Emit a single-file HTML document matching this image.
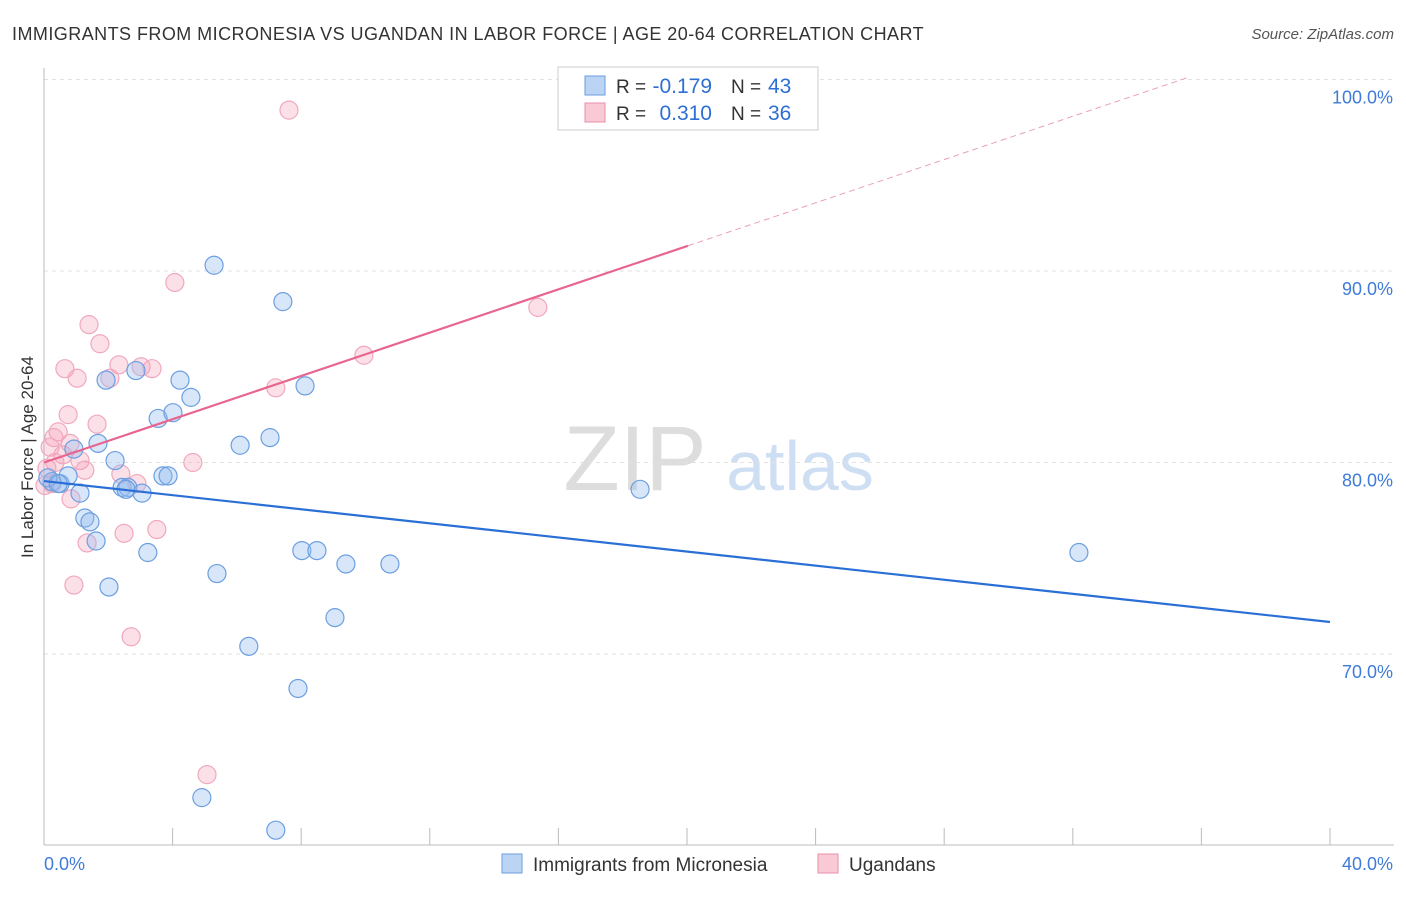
<!DOCTYPE html>
<html><head><meta charset="utf-8"><style>
body{margin:0;background:#fff;font-family:"Liberation Sans",sans-serif}
svg text{font-family:"Liberation Sans",sans-serif}
</style></head><body>
<svg id="c" width="1406" height="892">
<text x="12" y="40" font-size="18" fill="#333" letter-spacing="0.45">IMMIGRANTS FROM MICRONESIA VS UGANDAN IN LABOR FORCE | AGE 20-64 CORRELATION CHART</text>
<text x="1394" y="39" font-size="15" fill="#555" font-style="italic" text-anchor="end">Source: ZipAtlas.com</text>
<text x="33" y="457" font-size="17" fill="#333" text-anchor="middle" transform="rotate(-90 33 457)">In Labor Force | Age 20-64</text>
<g><text x="635" y="490" font-size="92" fill="#ddd" font-family="Liberation Serif" text-anchor="middle">ZIP</text><text x="800" y="490" font-size="70" fill="#cfdff3" text-anchor="middle">atlas</text></g>
<g id="grid"></g><g id="marks"></g><g id="lines"></g>
<g>
<rect x="558" y="67" width="260" height="63" fill="#fff" stroke="#ccc"/>
<rect x="585" y="76" width="20" height="19" fill="#bcd4f4" stroke="#6a9de0"/>
<rect x="585" y="103" width="20" height="19" fill="#f9c9d6" stroke="#eb8fab"/>
<text x="616" y="93" font-size="19" fill="#333">R =</text>
<text x="712" y="93" font-size="21" fill="#2e6fd3" text-anchor="end">-0.179</text>
<text x="731" y="93" font-size="19" fill="#333">N =</text>
<text x="768" y="93" font-size="21" fill="#2e6fd3">43</text>
<text x="616" y="120" font-size="19" fill="#333">R =</text>
<text x="712" y="120" font-size="21" fill="#2e6fd3" text-anchor="end">0.310</text>
<text x="731" y="120" font-size="19" fill="#333">N =</text>
<text x="768" y="120" font-size="21" fill="#2e6fd3">36</text>
</g>
<g>
<rect x="502" y="854" width="20" height="19" fill="#bcd4f4" stroke="#6a9de0"/>
<text x="533" y="871" font-size="19" fill="#333">Immigrants from Micronesia</text>
<rect x="818" y="854" width="20" height="19" fill="#f9c9d6" stroke="#eb8fab"/>
<text x="849" y="871" font-size="19" fill="#333">Ugandans</text>
</g>
</svg>
<script>
const yTicks=[70,80,90,100];
const yTickLabels=["70.0%","80.0%","90.0%","100.0%"];
const blueX=[5.29,7.43,1.93,2.86,4.23,8.12,4.57,3.55,4.01,1.68,6.1,7.03,0.93,2.21,3.70,3.86,0.25,0.5,0.75,1.12,2.43,2.61,3.05,2.55,1.27,1.43,1.62,3.23,5.38,8.02,8.49,9.39,10.76,2.02,9.05,6.37,7.9,4.91,7.21,18.54,32.19,0.12,0.44];
const blueY=[90.3,88.4,84.3,84.8,84.3,84.0,83.4,82.3,82.6,81.0,80.9,81.3,80.7,80.1,79.3,79.3,79.0,78.9,79.3,78.4,78.7,78.7,78.4,78.6,77.1,76.9,75.9,75.3,74.2,75.4,75.4,74.7,74.7,73.5,71.9,70.4,68.2,62.5,60.8,78.6,75.3,79.2,78.9];
const pinkX=[7.62,4.07,15.36,1.4,1.74,0.65,1.03,2.05,2.33,3.02,3.36,9.95,7.21,0.75,1.65,0.44,0.31,0.81,0.19,0.34,1.12,1.27,4.63,2.39,2.89,0.84,1.34,2.49,3.51,0.93,2.71,5.07,0.09,0.25,0.59,0.03];
const pinkY=[98.4,89.4,88.1,87.2,86.2,84.9,84.4,84.4,85.1,85.0,84.9,85.6,83.9,82.5,82.0,81.6,81.3,81.0,80.8,80.0,80.1,79.6,80.0,79.4,78.9,78.1,75.8,76.3,76.5,73.6,70.9,63.7,79.7,78.9,80.4,78.8];
const blueTrend=[79.03,71.67];
const pinkTrend=[80.0,0.565];
const X=v=>44+v/40*1286, Y=v=>79.5+(100-v)*19.15;
const NS='http://www.w3.org/2000/svg';
function mk(t,a,p){const e=document.createElementNS(NS,t);for(const k in a)e.setAttribute(k,a[k]);p.appendChild(e);return e;}
const g=document.getElementById('grid');
yTicks.forEach((t,i)=>{
 const l=mk('line',{x1:44,x2:1394,y1:Y(t),y2:Y(t),stroke:'#e2e2e2','stroke-dasharray':'4,4'},g);
 
 
 const tx=mk('text',{x:1393,y:Y(t)+24,'font-size':18,fill:'#3f7bd8','text-anchor':'end'},g);
 tx.textContent=yTickLabels[i];
 
 
});
mk('line',{x1:44,x2:44,y1:68,y2:845,stroke:'#bbb'},g);
mk('line',{x1:44,x2:1394,y1:845,y2:845,stroke:'#bbb'},g);
for(let i=1;i<=10;i++){mk('line',{x1:X(i*4),x2:X(i*4),y1:828,y2:845,stroke:'#bbb'},g);}
const x0=mk('text',{x:44,y:870,'font-size':18,fill:'#3f7bd8'},g);x0.textContent='0.0%';


const x1=mk('text',{x:1393,y:870,'font-size':18,fill:'#3f7bd8','text-anchor':'end'},g);x1.textContent='40.0%';


const m=document.getElementById('marks');
pinkX.forEach((v,i)=>{const c=mk('circle',{cx:X(v),cy:Y(pinkY[i]),r:9,fill:'rgba(245,160,185,0.32)',stroke:'#f0a8bf','stroke-width':1.2},m);
 
 });
blueX.forEach((v,i)=>{const c=mk('circle',{cx:X(v),cy:Y(blueY[i]),r:9,fill:'rgba(150,190,240,0.38)',stroke:'#6c9fe0','stroke-width':1.2},m);
 
 });
const L=document.getElementById('lines');
const bl=mk('line',{x1:X(0),y1:Y(blueTrend[0]),x2:X(40),y2:Y(blueTrend[1]),stroke:'#2a6fd6','stroke-width':2.2},L);


const pe=20.03, pd=35.6;
const pl=mk('line',{x1:X(0),y1:Y(pinkTrend[0]),x2:X(pe),y2:Y(pinkTrend[0]+pinkTrend[1]*pe),stroke:'#e8658f','stroke-width':2.2},L);


const pdl=mk('line',{x1:X(pe),y1:Y(pinkTrend[0]+pinkTrend[1]*pe),x2:X(pd),y2:Y(pinkTrend[0]+pinkTrend[1]*pd),stroke:'#eaa0b8','stroke-width':1,'stroke-dasharray':'6,4'},L);


</script>
</body></html>
